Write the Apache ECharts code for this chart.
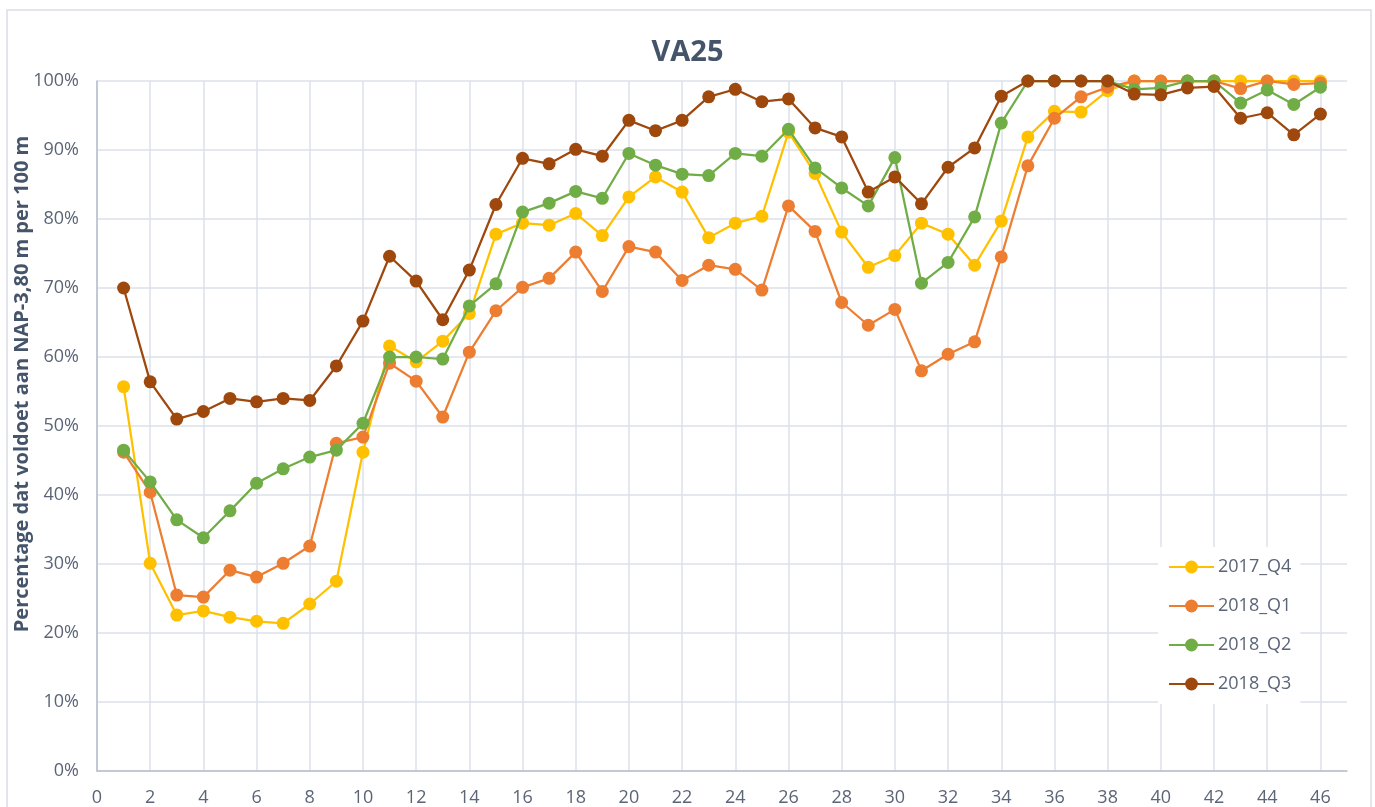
<!DOCTYPE html>
<html>
<head>
<meta charset="utf-8">
<script src="https://cdn.jsdelivr.net/npm/echarts@6/dist/echarts.min.js"></script>
<style>
html,body{margin:0;padding:0;background:#fff;}
#chart{width:1375px;height:807px;}
</style>
</head>
<body>
<div id="chart"></div>
<script>
const sections = [1,2,3,4,5,6,7,8,9,10,11,12,13,14,15,16,17,18,19,20,21,22,23,24,25,26,27,28,29,30,31,32,33,34,35,36,37,38,39,40,41,42,43,44,45,46];
const seriesNames = ['2017_Q4','2018_Q1','2018_Q2','2018_Q3'];
const q4_2017 = [55.7,30.1,22.6,23.2,22.3,21.7,21.4,24.2,27.5,46.2,61.6,59.3,62.3,66.3,77.8,79.4,79.1,80.8,77.6,83.2,86.1,83.9,77.3,79.4,80.4,92.6,86.6,78.1,73.0,74.7,79.4,77.8,73.3,79.7,91.9,95.6,95.5,98.6,100,100,100,100,100,100,100,100];
const q1_2018 = [46.2,40.4,25.5,25.2,29.1,28.1,30.1,32.6,47.5,48.4,59.1,56.5,51.3,60.7,66.7,70.1,71.4,75.2,69.5,76.0,75.2,71.1,73.3,72.7,69.7,81.9,78.2,67.9,64.6,66.9,58.0,60.4,62.2,74.5,87.7,94.6,97.7,99.1,100,100,100,100,98.9,100,99.5,99.7];
const q2_2018 = [46.5,41.9,36.4,33.8,37.7,41.7,43.8,45.5,46.5,50.4,60.0,60.0,59.7,67.4,70.6,81.0,82.3,84.0,83.0,89.5,87.8,86.5,86.3,89.5,89.1,93.0,87.4,84.5,81.9,88.9,70.7,73.7,80.3,93.9,100,100,100,100,98.8,99.0,100,100,96.8,98.7,96.6,99.1];
const q3_2018 = [70.0,56.4,51.0,52.1,54.0,53.5,54.0,53.7,58.7,65.2,74.6,71.0,65.4,72.6,82.1,88.8,88.0,90.1,89.1,94.3,92.8,94.3,97.7,98.8,97.0,97.4,93.2,91.9,83.9,86.1,82.2,87.5,90.3,97.8,100,100,100,100,98.1,98.0,99.0,99.2,94.6,95.4,92.2,95.2];
const yAxisTitle = 'Percentage dat voldoet aan NAP-3,80 m per 100 m';
const colors = ['#FFC000','#ED7D31','#70AD47','#9E480E'];
const allValues = [q4_2017, q1_2018, q2_2018, q3_2018];

const chart = echarts.init(document.getElementById('chart'), null, {renderer:'canvas'});
const labelColor = '#5b6577';
const font = '"Open Sans", "Noto Sans", sans-serif';

const series = seriesNames.map((name, i) => ({
  name: name,
  type: 'line',
  data: sections.map((s, j) => [s, allValues[i][j]]),
  symbol: 'circle',
  symbolSize: 13,
  showAllSymbol: true,
  lineStyle: {color: colors[i], width: 2.25},
  itemStyle: {color: colors[i]},
  emphasis: {disabled: true},
  animation: false,
  z: 2 + i
}));

chart.setOption({
  animation: false,
  textStyle: {fontFamily: font},
  title: {
    text: 'VA25',
    left: 'center',
    top: 33,
    textStyle: {fontFamily: font, fontSize: 29, fontWeight: 'bold', color: '#44546A'}
  },
  graphic: [{
    type: 'rect',
    shape: {x: 7, y: 10, width: 1364, height: 810},
    style: {fill: 'none', stroke: '#d9dde6', lineWidth: 1.5},
    silent: true,
    z: -10
  }, {
    type: 'text',
    x: 22,
    y: 384,
    rotation: Math.PI / 2,
    silent: true,
    style: {
      text: yAxisTitle,
      align: 'center',
      verticalAlign: 'middle',
      fontFamily: font,
      fontSize: 20,
      fontWeight: 'bold',
      fill: '#44546A'
    }
  }],
  grid: {left: 97, right: 28, top: 81, bottom: 36, containLabel: false, outerBoundsMode: 'none'},
  legend: {
    orient: 'vertical',
    left: 1158,
    top: 547,
    padding: [11, 9, 11, 10],
    itemWidth: 45,
    itemHeight: 16,
    itemGap: 21,
    backgroundColor: '#ffffff',
    data: seriesNames,
    textStyle: {fontFamily: font, fontSize: 18, lineHeight: 16, color: labelColor, padding: [0,0,0,-1]}
  },
  xAxis: {
    type: 'value',
    min: 0,
    max: 47,
    interval: 2,
    axisLine: {show: true, lineStyle: {color: '#b7bfcd', width: 1.5}},
    axisTick: {show: false},
    axisLabel: {showMaxLabel: false, color: labelColor, fontSize: 18, fontFamily: font, margin: 18},
    splitLine: {show: true, showMaxLine: false, lineStyle: {color: '#dde1e9', width: 1.5}}
  },
  yAxis: {
    type: 'value',
    min: 0,
    max: 100,
    interval: 10,
    axisLine: {show: true, lineStyle: {color: '#b7bfcd', width: 1.5}},
    axisTick: {show: false},
    axisLabel: {formatter: '{value}%', color: labelColor, fontSize: 18, fontFamily: font, margin: 18},
    splitLine: {show: true, lineStyle: {color: '#dde1e9', width: 1.5}}
  },
  series: series
});
</script>
</body>
</html>
